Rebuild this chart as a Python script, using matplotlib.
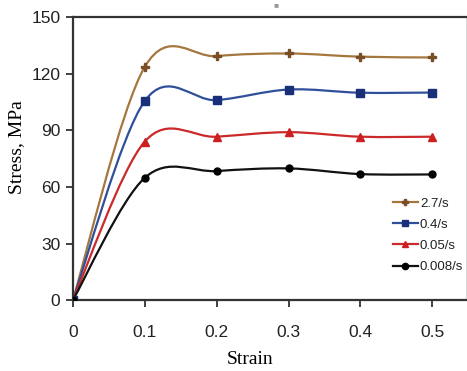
import numpy as np
import matplotlib.pyplot as plt
from matplotlib.path import Path
from matplotlib.patches import PathPatch
from matplotlib.lines import Line2D

plt.rcParams['font.family'] = ['Liberation Sans Narrow', 'Liberation Sans', 'DejaVu Sans']

# strain points and stress readings (MPa) for each strain rate
strain = [0.0, 0.1, 0.2, 0.3, 0.4, 0.5]
stress_27 = [0.0, 123.6, 129.3, 130.7, 129.0, 128.6]
stress_04 = [0.0, 105.5, 106.0, 111.6, 109.9, 110.0]
stress_005 = [0.0, 84.0, 86.6, 89.0, 86.6, 86.6]
stress_0008 = [0.0, 64.8, 68.4, 69.8, 66.8, 66.6]
rate_labels = ['2.7/s', '0.4/s', '0.05/s', '0.008/s']


def smooth_path(x, y):
    """Catmull-Rom style bezier path through the points (spreadsheet smoothing)."""
    pts = np.column_stack([x, y])
    n = len(pts)
    verts = [pts[0]]
    codes = [Path.MOVETO]
    for i in range(n - 1):
        p0 = pts[max(i - 1, 0)]
        p1 = pts[i]
        p2 = pts[i + 1]
        p3 = pts[min(i + 2, n - 1)]
        c1 = p1 + (p2 - p0) / 6.0
        c2 = p2 - (p3 - p1) / 6.0
        verts += [c1, c2, p2]
        codes += [Path.CURVE4] * 3
    return Path(verts, codes)


fig = plt.figure(figsize=(4.67, 3.71), dpi=100)
ax = fig.add_axes([0.156, 0.191, 0.842, 0.763])

series = [
    (stress_27, '#a5773f', '#7a4e25', 'P', 5.5),
    (stress_04, '#2f4f9a', '#1a2f7a', 's', 5.5),
    (stress_005, '#cc2a2a', '#cc1f1f', '^', 5.5),
    (stress_0008, '#111111', '#000000', 'o', 5),
]

handles = []
for (vals, lc, mc, mk, ms), lab in zip(series, rate_labels):
    patch = PathPatch(smooth_path(strain, vals), facecolor='none',
                      edgecolor=lc, lw=1.6, zorder=2)
    ax.add_patch(patch)
    ax.plot(strain, vals, linestyle='none', marker=mk, ms=ms,
            color=mc, zorder=3)
    handles.append(Line2D([], [], color=lc, lw=1.6, marker=mk, ms=ms - 0.5,
                          markerfacecolor=mc, markeredgecolor=mc))

ax.set_xlim(0, 0.547)
ax.set_ylim(0, 150)
ax.set_xticks([0, 0.1, 0.2, 0.3, 0.4, 0.5])
ax.set_xticklabels(['0', '0.1', '0.2', '0.3', '0.4', '0.5'])
ax.set_yticks([0, 30, 60, 90, 120, 150])

for side in ['left', 'bottom', 'top']:
    ax.spines[side].set_color('#333333')
    ax.spines[side].set_linewidth(1.6)
ax.spines['right'].set_color('#d8d8d8')
ax.spines['right'].set_linewidth(0.8)

ax.tick_params(axis='both', direction='out', length=5, width=1.3,
               color='#333333', labelsize=12.5, labelcolor='#222222')
ax.tick_params(axis='x', pad=13)
ax.tick_params(axis='y', pad=4)

ax.set_xlabel('Strain', family='Liberation Serif', fontsize=14)
ax.set_ylabel('Stress, MPa', family='Liberation Serif', fontsize=14)
ax.xaxis.set_label_coords(0.45, -0.18)
ax.yaxis.set_label_coords(-0.122, 0.54)

leg = ax.legend(handles, rate_labels, loc='upper left',
                bbox_to_anchor=(0.814, 0.362), frameon=False, fontsize=9.5,
                handlelength=1.9, handletextpad=0.15, labelspacing=0.67,
                borderaxespad=0, borderpad=0)
for t in leg.get_texts():
    t.set_color('#222222')

# small grey square above the plot area
fig.text(0.59, 0.985, '\u25a0', color='#999999', fontsize=6,
         ha='center', va='center')

fig.savefig('out.png', dpi=100)
